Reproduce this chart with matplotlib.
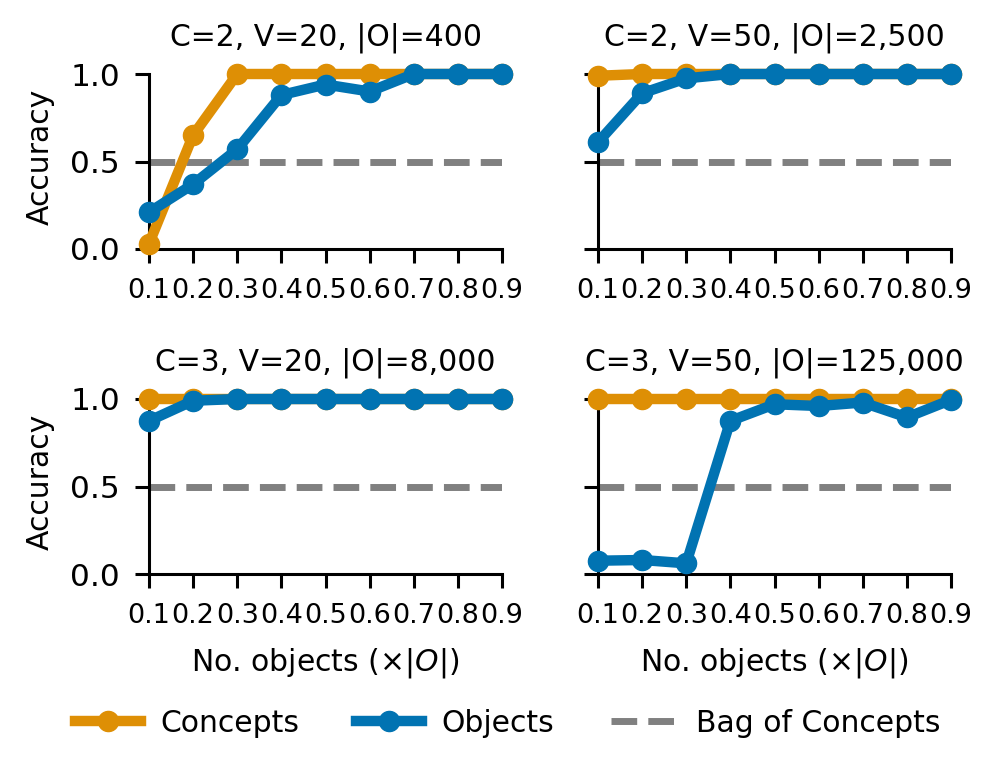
import matplotlib.pyplot as plt

# fracciones del numero de objetos (x|O|)
fracs = [0.1, 0.2, 0.3, 0.4, 0.5, 0.6, 0.7, 0.8, 0.9]
tick_labels = ["0.1", "0.2", "0.3", "0.4", "0.5", "0.6", "0.7", "0.8", "0.9"]

titles = ["C=2, V=20, |O|=400", "C=2, V=50, |O|=2,500",
          "C=3, V=20, |O|=8,000", "C=3, V=50, |O|=125,000"]

# precision de cada panel
concepts_c2v20 = [0.03, 0.65, 1.0, 1.0, 1.0, 1.0, 1.0, 1.0, 1.0]
objects_c2v20 = [0.21, 0.37, 0.57, 0.88, 0.94, 0.90, 1.0, 1.0, 1.0]
concepts_c2v50 = [0.99, 1.0, 1.0, 1.0, 1.0, 1.0, 1.0, 1.0, 1.0]
objects_c2v50 = [0.61, 0.89, 0.975, 1.0, 1.0, 1.0, 1.0, 1.0, 1.0]
concepts_c3v20 = [1.0, 1.0, 1.0, 1.0, 1.0, 1.0, 1.0, 1.0, 1.0]
objects_c3v20 = [0.875, 0.99, 1.0, 1.0, 1.0, 1.0, 1.0, 1.0, 1.0]
concepts_c3v50 = [1.0, 1.0, 1.0, 1.0, 1.0, 1.0, 1.0, 1.0, 1.0]
objects_c3v50 = [0.076, 0.08, 0.061, 0.875, 0.97, 0.96, 0.98, 0.895, 0.995]

bag_of_concepts = 0.5

concepts = [concepts_c2v20, concepts_c2v50, concepts_c3v20, concepts_c3v50]
objects = [objects_c2v20, objects_c2v50, objects_c3v20, objects_c3v50]

c_orange = "#DE8F05"
c_blue = "#0173B2"

W, H = 996, 767
fig = plt.figure(figsize=(W / 100, H / 100), dpi=100)

# posiciones de los ejes en pixeles (izq, y de 0.0)
lefts = [149, 598, 149, 598]
bottoms = [249, 249, 574, 574]
ax_w = 353
ax_h = 1.05 * 175

axes = []
for i in range(4):
    a = fig.add_axes([lefts[i] / W, (H - bottoms[i]) / H, ax_w / W, ax_h / H])
    axes.append(a)

for i, a in enumerate(axes):
    a.plot(fracs, [bag_of_concepts] * len(fracs), color="grey", lw=5,
           linestyle="--", label="Bag of Concepts", zorder=1)
    a.plot(fracs, concepts[i], color=c_orange, lw=7.5, marker="o", ms=14.5,
           label="Concepts", clip_on=False, zorder=3)
    a.plot(fracs, objects[i], color=c_blue, lw=7.5, marker="o", ms=14.5,
           label="Objects", clip_on=False, zorder=4)

    a.set_xlim(0.1, 0.9)
    a.set_ylim(0, 1.05)
    a.set_xticks(fracs)
    a.set_xticklabels(tick_labels, fontsize=19.5)
    a.set_yticks([0, 0.5, 1.0])
    a.spines["top"].set_visible(False)
    a.spines["right"].set_visible(False)
    a.spines["left"].set_bounds(0, 1.0)
    a.spines["left"].set_linewidth(2.2)
    a.spines["bottom"].set_linewidth(2.2)
    a.tick_params(axis="both", width=2.2, length=10)
    a.tick_params(axis="y", labelsize=22.5, pad=11)
    a.tick_params(axis="x", pad=11)
    a.set_title(titles[i], fontsize=21.5, pad=14.5)
    if i % 2 == 0:
        a.set_ylabel("Accuracy", fontsize=21.5, labelpad=11)
    else:
        a.set_yticklabels([])
    if i >= 2:
        a.set_xlabel(r"No. objects ($\times|O|$)", fontsize=21.5, labelpad=12)

# leyenda comun debajo de los paneles
handles, labels = axes[0].get_legend_handles_labels()
order = [1, 2, 0]
fig.legend([handles[k] for k in order], [labels[k] for k in order],
           loc="lower center", ncol=3, frameon=False, fontsize=21.5,
           bbox_to_anchor=(0.51, 0.003), handlelength=2.2, handletextpad=0.65,
           columnspacing=1.9)

fig.savefig("out.png", dpi=100)
